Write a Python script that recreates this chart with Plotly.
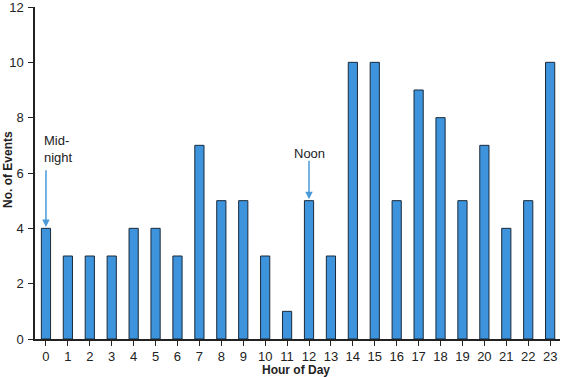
import plotly.graph_objects as go

hours = list(range(24))
events = [4, 3, 3, 3, 4, 4, 3, 7, 5, 5, 3, 1, 5, 3, 10, 10, 5, 9, 8, 5, 7, 4, 5, 10]
y_ticks = [0, 2, 4, 6, 8, 10, 12]

font = "Liberation Sans, Arial, sans-serif"
arrow_col = "#4a9ad8"

W, H = 562, 377
L, R, T, B = 35, 2, 7, 38
PW, PH = W - L - R, H - T - B


def px_x(px):
    return (px - L) / PW


def px_y(py):
    return (H - B - py) / PH


fig = go.Figure(go.Bar(
    x=hours, y=events, width=0.42,
    marker=dict(color="#3d93dc", line=dict(color="#1a2a3a", width=1)),
))

fig.update_layout(
    width=W, height=H,
    margin=dict(l=L, r=R, t=T, b=B),
    plot_bgcolor="white", paper_bgcolor="white",
    font=dict(family=font, size=13, color="#222"),
    showlegend=False,
    xaxis=dict(
        range=[-0.5, 23.45], tickmode="array", tickvals=hours,
        ticktext=[str(h) for h in hours], automargin=False,
        showgrid=False, showline=True, linecolor="#222", linewidth=1.5,
        ticks="outside", ticklen=5, tickcolor="#222", tickson="boundaries",
        zeroline=False, ticklabeloverflow="allow",
    ),
    yaxis=dict(
        range=[0, 12], tickvals=y_ticks, showgrid=False, showline=True,
        linecolor="#222", linewidth=1.5, ticks="outside", ticklen=5,
        tickcolor="#222", zeroline=False, automargin=False,
        ticklabeloverflow="allow", ticklabelstandoff=2,
    ),
    annotations=[
        dict(x=0, y=4.05, ax=0, ay=6.15, xref="x", yref="y", axref="x", ayref="y",
             text="", showarrow=True, arrowhead=2, arrowsize=1, arrowwidth=1.5,
             arrowcolor=arrow_col),
        dict(x=-0.2, y=6.85, xref="x", yref="y", text="Mid-<br>night",
             showarrow=False, xanchor="left", yanchor="middle", align="left",
             font=dict(size=13, color="#222")),
        dict(x=12, y=5.05, ax=12, ay=6.5, xref="x", yref="y", axref="x", ayref="y",
             text="", showarrow=True, arrowhead=2, arrowsize=1, arrowwidth=1.5,
             arrowcolor=arrow_col),
        dict(x=12, y=6.72, xref="x", yref="y", text="Noon",
             showarrow=False, xanchor="center", yanchor="middle",
             font=dict(size=13, color="#222")),
        dict(x=px_x(296), y=px_y(370), xref="paper", yref="paper",
             xanchor="center", yanchor="middle",
             text="<b>Hour of Day</b>", showarrow=False,
             font=dict(size=12, color="#222")),
        dict(x=px_x(8), y=px_y(170), xref="paper", yref="paper",
             xanchor="center", yanchor="middle",
             text="<b>No. of Events</b>", textangle=-90, showarrow=False,
             font=dict(size=12, color="#222")),
    ],
)

fig.write_html("out.html", config={"displayModeBar": False},
               post_script="document.body.style.margin='0';")
